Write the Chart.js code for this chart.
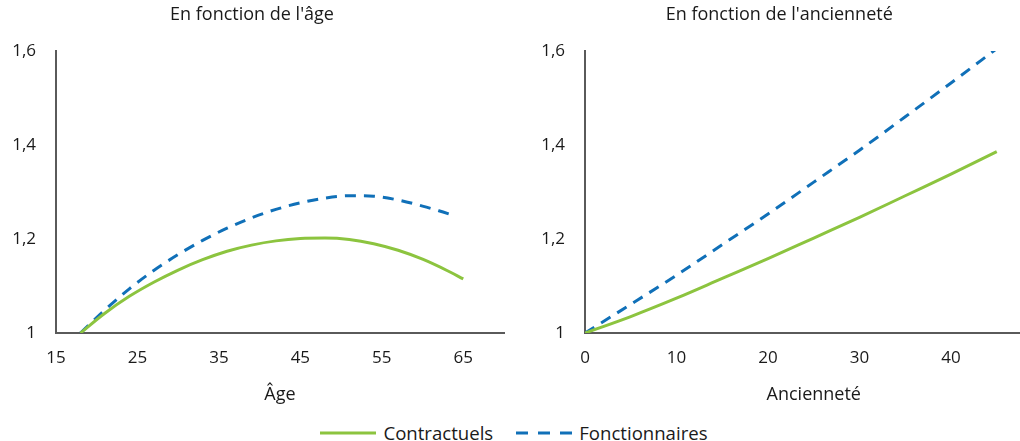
<!DOCTYPE html>
<html>
<head>
<meta charset="utf-8">
<script src="https://cdn.jsdelivr.net/npm/chart.js@4/dist/chart.umd.min.js"></script>
<style>
  html, body { margin: 0; padding: 0; background: #fff; overflow: hidden; width: 1020px; height: 441px; }
  #wrap { position: relative; width: 1020px; height: 441px; overflow: hidden; }
  #c1 { position: absolute; left: 0; top: 0; }
  #c2 { position: absolute; left: 516px; top: 0; }
  #legend { position: absolute; left: 4px; top: 423px; width: 1020px; height: 20px; display: flex; justify-content: center; align-items: center;
            font-family: "Open Sans", "Noto Sans", sans-serif; font-size: 18.6px; line-height: 20px; color: #1a1a1a; }
  .item { display: flex; align-items: center; height: 20px; }
  .item span { line-height: 20px; }
  .item svg { margin-right: 7px; }
  .item + .item { margin-left: 23px; }
</style>
</head>
<body>
<div id="wrap">
  <canvas id="c1" width="516" height="410"></canvas>
  <canvas id="c2" width="538" height="410"></canvas>
  <div id="legend">
    <div class="item"><svg width="56" height="6"><line x1="0" y1="3" x2="56" y2="3" stroke="#8cc43f" stroke-width="3"/></svg><span id="lg1"></span></div>
    <div class="item"><svg width="56" height="6"><line x1="0" y1="3" x2="56" y2="3" stroke="#1070b8" stroke-width="3" stroke-dasharray="12 10"/></svg><span id="lg2"></span></div>
  </div>
</div>
<script>
// ---- Data ----
const seriesNames = ["Contractuels", "Fonctionnaires"];
const panelTitles = ["En fonction de l'âge", "En fonction de l'ancienneté"];
const axisTitles = ["Âge", "Ancienneté"];

// Panel 1: by age
const ageContractuels = [18, 21, 24, 27, 30, 33, 36, 39, 42, 45, 48, 51, 54, 57, 60, 63, 65];
const valContractuelsAge = [1.000, 1.042, 1.078, 1.108, 1.134, 1.156, 1.174, 1.187, 1.196, 1.201, 1.202, 1.199, 1.190, 1.176, 1.157, 1.133, 1.115];
const ageFonctionnaires = [18, 21, 24, 27, 30, 33, 36, 39, 42, 45, 48, 51, 54, 57, 60, 62, 64];
const valFonctionnairesAge = [1.000, 1.049, 1.094, 1.133, 1.167, 1.197, 1.223, 1.245, 1.263, 1.277, 1.287, 1.292, 1.291, 1.283, 1.270, 1.260, 1.249];

// Panel 2: by seniority
const seniority = [0, 5, 10, 15, 20, 25, 30, 35, 40, 45];
const valContractuelsSen = [1.000, 1.035, 1.074, 1.116, 1.158, 1.202, 1.246, 1.292, 1.338, 1.386];
const valFonctionnairesSen = [1.000, 1.061, 1.123, 1.188, 1.253, 1.321, 1.389, 1.460, 1.532, 1.605];

// Ticks
const ageTicks = [15, 25, 35, 45, 55, 65];
const seniorityTicks = [0, 10, 20, 30, 40];
const yTickValues = [1, 1.2, 1.4, 1.6];
const yTickLabels = ["1", "1,2", "1,4", "1,6"];

// ---- Styles ----
const GREEN = "#8cc43f";
const BLUE = "#1070b8";
const AXIS = "#5a5a5a";
const TEXT = "#1a1a1a";
const FONT = "'Open Sans', 'Noto Sans', sans-serif";

document.getElementById('lg1').textContent = seriesNames[0];
document.getElementById('lg2').textContent = seriesNames[1];

function pts(xs, ys) { return xs.map((x, i) => ({ x: x, y: ys[i] })); }

function makeChart(id, title, xTitle, xMin, xMax, xTicks, dsGreen, dsBlue, yWidth, padRight) {
  return new Chart(document.getElementById(id), {
    type: 'line',
    data: {
      datasets: [
        { label: seriesNames[0], data: dsGreen, borderColor: GREEN, borderWidth: 3, pointRadius: 0,
          tension: 0.4, cubicInterpolationMode: 'monotone', fill: false },
        { label: seriesNames[1], data: dsBlue, borderColor: BLUE, borderWidth: 3, pointRadius: 0,
          borderDash: [11, 8], tension: 0.4, cubicInterpolationMode: 'monotone', fill: false }
      ]
    },
    options: {
      responsive: false,
      animation: false,
      layout: { padding: { left: 0, right: padRight, top: 0, bottom: 0 } },
      plugins: {
        legend: { display: false },
        tooltip: { enabled: false },
        title: { display: true, text: title, color: TEXT, font: { family: FONT, size: 18, weight: 'normal', lineHeight: 1.2 },
                 padding: { top: 4, bottom: 25.4 } }
      },
      scales: {
        x: {
          type: 'linear', min: xMin, max: xMax,
          afterBuildTicks: s => { s.ticks = xTicks.map(v => ({ value: v })); },
          afterFit: s => { s.height = 77; },
          grid: { display: false, drawTicks: false },
          border: { display: true, color: AXIS, width: 2 },
          ticks: { color: TEXT, font: { family: FONT, size: 17 }, padding: 15, maxRotation: 0, autoSkip: false },
          title: { display: true, text: xTitle, color: TEXT, font: { family: FONT, size: 18 }, padding: { top: 4, bottom: 4 } }
        },
        y: {
          type: 'linear', min: 1, max: 1.6,
          afterBuildTicks: s => { s.ticks = yTickValues.map(v => ({ value: v })); },
          afterFit: s => { s.width = yWidth; },
          grid: { display: false, drawTicks: false },
          border: { display: true, color: AXIS, width: 2 },
          ticks: { color: TEXT, font: { family: FONT, size: 17 }, padding: 20,
                   callback: (v) => { const i = yTickValues.findIndex(t => Math.abs(t - v) < 1e-9); return i >= 0 ? yTickLabels[i] : ''; } }
        }
      }
    }
  });
}

makeChart('c1', panelTitles[0], axisTitles[0], 15, 70, ageTicks,
  pts(ageContractuels, valContractuelsAge), pts(ageFonctionnaires, valFonctionnairesAge), 56, 12);
makeChart('c2', panelTitles[1], axisTitles[1], 0, 50, seniorityTicks,
  pts(seniority, valContractuelsSen), pts(seniority, valFonctionnairesSen), 69, 11.5);
</script>
</body>
</html>
